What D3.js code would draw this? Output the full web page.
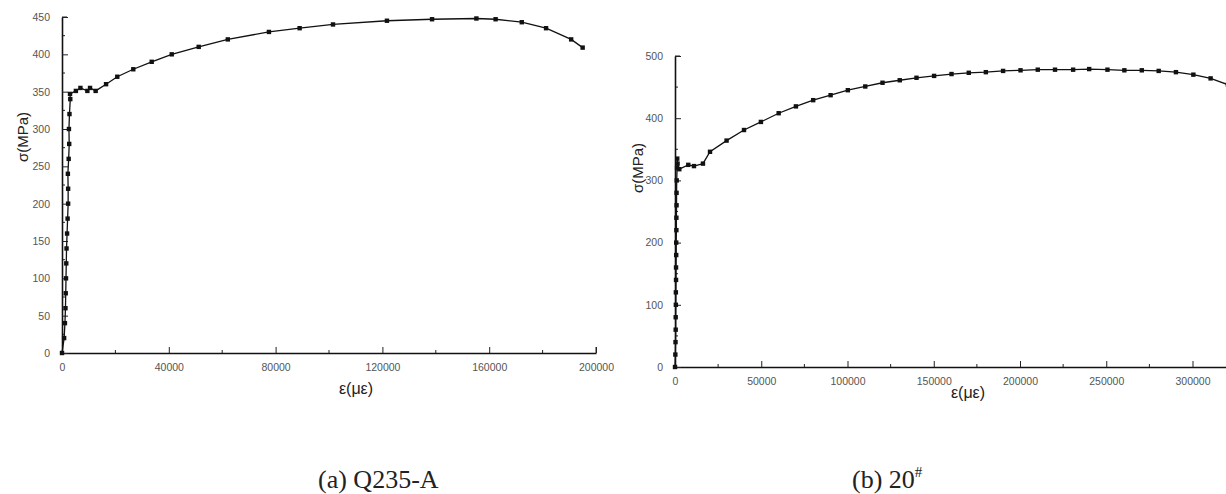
<!DOCTYPE html>
<html>
<head>
<meta charset="utf-8">
<script src="https://cdn.jsdelivr.net/npm/d3@7"></script>
<style>
  body { margin: 0; background: #fff; }
  text { font-family: "Liberation Sans", Arial, sans-serif; }
</style>
</head>
<body>
<div id="chart"></div>
<script>
// Q235-A test curve (strain in microstrain, stress in MPa).
var q235Strain = [0, 800, 1100, 1300, 1400, 1500, 1600, 1700, 1900, 2100, 2300, 2300, 2200, 2500, 2700, 2600, 2800, 3100, 3000,
    5200, 6900, 9500, 10500, 12600, 16500, 20700, 26700, 33600, 41100, 51200, 62100, 77500, 89000,
    101500, 121700, 138600, 155200, 162400, 172200, 181300, 190700, 195000];
var q235Stress = [0, 20, 40, 60, 80, 100, 120, 140, 160, 180, 200, 220, 240, 260, 280, 300, 320, 340, 347,
    351, 355, 351, 355, 351, 360, 370, 380, 390, 400, 410, 420, 430, 435,
    440, 445, 447, 448, 447, 443, 435, 420, 409];

// 20# steel test curve.
var s20Strain = [0, 200, 300, 400, 400, 500, 500, 600, 600, 700, 700, 800, 800, 900, 900, 1000, 1200, 1300, 1500, 2500,
    7700, 11000, 16200, 20300, 29900, 40000, 49800, 60100, 70100, 80100, 90200, 100200, 110300, 120300, 130300, 140000,
    150200, 160300, 170300, 180200, 190200, 200300, 210300, 220300, 230800, 240100, 250700, 260500, 270600, 280400,
    290400, 300500, 310500, 320500];
var s20Stress = [0, 20, 40, 60, 80, 100, 120, 140, 160, 180, 200, 220, 240, 260, 280, 300, 320, 335, 327, 318,
    325, 323, 327, 346, 364, 381, 394, 408, 419, 429, 437, 445, 451, 457, 461, 465,
    468, 471, 473, 474, 476, 477, 478, 478, 478, 479, 478, 477, 477, 476,
    474, 470, 464, 454];

// Tick values.
var q235XTicks = [0, 40000, 80000, 120000, 160000, 200000];
var q235YTicks = [0, 50, 100, 150, 200, 250, 300, 350, 400, 450];
var s20XTicks = [0, 50000, 100000, 150000, 200000, 250000, 300000];
var s20YTicks = [0, 100, 200, 300, 400, 500];

var svg = d3.select("#chart").append("svg")
    .attr("width", 1226)
    .attr("height", 494);

function panel(opt) {
    var x = d3.scaleLinear().domain(opt.xDomain).range([opt.left, opt.right]);
    var y = d3.scaleLinear().domain(opt.yDomain).range([opt.bottom, opt.top]);
    var g = svg.append("g");

    var clipId = "clip" + opt.id;
    svg.append("clipPath").attr("id", clipId)
        .append("rect")
        .attr("x", opt.left - 6).attr("y", opt.top - 6)
        .attr("width", Math.min(1226, opt.right + 6) - opt.left + 6)
        .attr("height", opt.bottom - opt.top + 12);

    // Minor ticks (inward).
    var xMinor = d3.range(opt.xMinor, opt.xDomain[1], opt.xMinor * 2);
    g.selectAll(".xminor").data(xMinor).enter().append("line")
        .attr("x1", function(d) { return x(d); }).attr("x2", function(d) { return x(d); })
        .attr("y1", opt.bottom).attr("y2", opt.bottom - 3)
        .attr("stroke", "#222").attr("stroke-width", 1);
    var yMinor = d3.range(opt.yMinor, opt.yDomain[1], opt.yMinor * 2);
    g.selectAll(".yminor").data(yMinor).enter().append("line")
        .attr("x1", opt.left).attr("x2", opt.left + 3)
        .attr("y1", function(d) { return y(d); }).attr("y2", function(d) { return y(d); })
        .attr("stroke", "#222").attr("stroke-width", 1);

    // Axes.
    var xAxis = g.append("g")
        .attr("transform", "translate(0," + opt.bottom + ")")
        .call(d3.axisBottom(x).tickValues(opt.xTicks).tickSizeInner(-6).tickSizeOuter(0).tickPadding(11)
            .tickFormat(d3.format("d")));
    var yAxis = g.append("g")
        .attr("transform", "translate(" + opt.left + ",0)")
        .call(d3.axisLeft(y).tickValues(opt.yTicks).tickSizeInner(-6).tickSizeOuter(0).tickPadding(12)
            .tickFormat(d3.format("d")));
    [xAxis, yAxis].forEach(function(a) {
        a.select(".domain").attr("stroke", "#111").attr("stroke-width", 1.6);
        a.selectAll(".tick line").attr("stroke", "#222");
        a.selectAll(".tick text").attr("fill", "#555").style("font-size", "10.5px");
    });
    if (opt.xEndCap) {
        g.append("line")
            .attr("x1", x(opt.xDomain[1])).attr("x2", x(opt.xDomain[1]))
            .attr("y1", opt.bottom).attr("y2", opt.bottom - 6)
            .attr("stroke", "#222");
    }
    g.append("line")
        .attr("x1", opt.left).attr("x2", opt.left + 5)
        .attr("y1", opt.top).attr("y2", opt.top)
        .attr("stroke", "#222");

    // Curve.
    var pts = opt.strain.map(function(d, i) { return [d, opt.stress[i]]; });
    var line = d3.line()
        .x(function(d) { return x(d[0]); })
        .y(function(d) { return y(d[1]); });
    var plot = g.append("g").attr("clip-path", "url(#" + clipId + ")");
    plot.append("path")
        .datum(pts)
        .attr("d", line)
        .attr("fill", "none")
        .attr("stroke", "#111")
        .attr("stroke-width", 1.3);
    plot.selectAll(".pt").data(pts).enter().append("rect")
        .attr("x", function(d) { return x(d[0]) - 2.2; })
        .attr("y", function(d) { return y(d[1]) - 2.2; })
        .attr("width", 4.4).attr("height", 4.4)
        .attr("fill", "#111");

    // Axis titles.
    g.append("text")
        .attr("transform", "translate(" + opt.yLabelX + "," + opt.yLabelY + ") rotate(-90)")
        .attr("text-anchor", "middle")
        .attr("fill", "#222")
        .style("font-size", "15px")
        .text("σ(MPa)");
    g.append("text")
        .attr("x", opt.xLabelX).attr("y", opt.xLabelY)
        .attr("text-anchor", "middle")
        .attr("fill", "#222")
        .style("font-size", "16px")
        .text("ε(με)");
}

panel({
    id: "a", strain: q235Strain, stress: q235Stress,
    xDomain: [0, 200000], yDomain: [0, 450],
    left: 62, right: 596, top: 17, bottom: 353,
    xTicks: q235XTicks, yTicks: q235YTicks, xMinor: 20000, yMinor: 25,
    xEndCap: true,
    yLabelX: 28, yLabelY: 137, xLabelX: 356, xLabelY: 394
});

panel({
    id: "b", strain: s20Strain, stress: s20Stress,
    xDomain: [0, 320000], yDomain: [0, 500],
    left: 675, right: 1227, top: 56, bottom: 367,
    xTicks: s20XTicks, yTicks: s20YTicks, xMinor: 25000, yMinor: 50,
    xEndCap: false,
    yLabelX: 643, yLabelY: 168, xLabelX: 968, xLabelY: 398
});

// Captions.
svg.append("text")
    .attr("x", 318).attr("y", 488)
    .style("font-family", "'Liberation Serif', 'Times New Roman', serif")
    .style("font-size", "26px")
    .attr("fill", "#222")
    .text("(a) Q235-A");

var cap = svg.append("text")
    .attr("x", 852).attr("y", 488)
    .style("font-family", "'Liberation Serif', 'Times New Roman', serif")
    .style("font-size", "26px")
    .attr("fill", "#222");
cap.append("tspan").text("(b) 20");
cap.append("tspan").attr("dy", -11).style("font-size", "15px").text("#");
</script>
</body>
</html>
